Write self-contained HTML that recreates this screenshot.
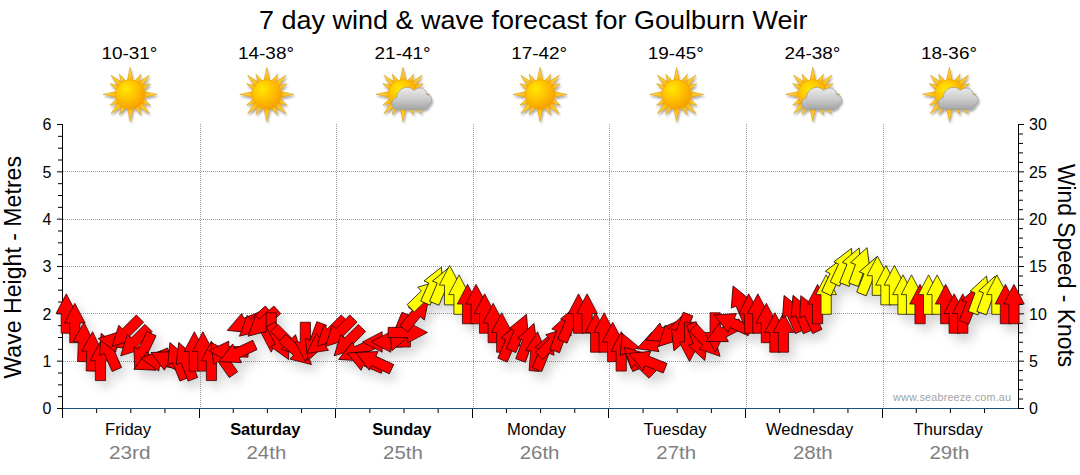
<!DOCTYPE html>
<html><head><meta charset="utf-8"><title>7 day wind &amp; wave forecast</title>
<style>html,body{margin:0;padding:0;background:#fff;overflow:hidden}body{width:1080px;height:475px;font-family:"Liberation Sans",sans-serif}</style></head>
<body>
<svg width="1080" height="475" viewBox="0 0 1080 475" style="display:block">
<defs>
<radialGradient id="sd" cx="0.36" cy="0.32" r="0.75"><stop offset="0" stop-color="#ffe800"/><stop offset="0.45" stop-color="#ffc400"/><stop offset="1" stop-color="#f79a00"/></radialGradient>
<linearGradient id="ry" x1="0" y1="1" x2="0" y2="0"><stop offset="0" stop-color="#fbb000"/><stop offset="1" stop-color="#ffe060"/></linearGradient>
<linearGradient id="cl" x1="0" y1="0" x2="0" y2="1"><stop offset="0" stop-color="#ebebeb"/><stop offset="0.5" stop-color="#cdcdcd"/><stop offset="1" stop-color="#a4a4a4"/></linearGradient>
<filter id="sh" x="-5%" y="-20%" width="110%" height="150%"><feGaussianBlur in="SourceAlpha" stdDeviation="5.5"/><feOffset dx="5" dy="7" result="o"/><feComponentTransfer><feFuncA type="linear" slope="0.17"/></feComponentTransfer><feMerge><feMergeNode/><feMergeNode in="SourceGraphic"/></feMerge></filter>
<filter id="ish" x="-20%" y="-20%" width="140%" height="140%"><feGaussianBlur in="SourceAlpha" stdDeviation="1.2"/><feOffset dx="1" dy="1.5"/><feComponentTransfer><feFuncA type="linear" slope="0.35"/></feComponentTransfer><feMerge><feMergeNode/><feMergeNode in="SourceGraphic"/></feMerge></filter>
<g id="sun">
<polygon points="0,-22.8 2.9,-12 -2.9,-12" transform="rotate(28)" fill="url(#ry)" stroke="#d69200" stroke-width="0.55"/><polygon points="0,-22.8 2.9,-12 -2.9,-12" transform="rotate(62)" fill="url(#ry)" stroke="#d69200" stroke-width="0.55"/><polygon points="0,-22.8 2.9,-12 -2.9,-12" transform="rotate(118)" fill="url(#ry)" stroke="#d69200" stroke-width="0.55"/><polygon points="0,-22.8 2.9,-12 -2.9,-12" transform="rotate(152)" fill="url(#ry)" stroke="#d69200" stroke-width="0.55"/><polygon points="0,-22.8 2.9,-12 -2.9,-12" transform="rotate(208)" fill="url(#ry)" stroke="#d69200" stroke-width="0.55"/><polygon points="0,-22.8 2.9,-12 -2.9,-12" transform="rotate(242)" fill="url(#ry)" stroke="#d69200" stroke-width="0.55"/><polygon points="0,-22.8 2.9,-12 -2.9,-12" transform="rotate(298)" fill="url(#ry)" stroke="#d69200" stroke-width="0.55"/><polygon points="0,-22.8 2.9,-12 -2.9,-12" transform="rotate(332)" fill="url(#ry)" stroke="#d69200" stroke-width="0.55"/><polygon points="0,-27 3.3,-12 -3.3,-12" transform="rotate(0)" fill="url(#ry)" stroke="#d69200" stroke-width="0.55"/><polygon points="0,-27 3.3,-12 -3.3,-12" transform="rotate(45)" fill="url(#ry)" stroke="#d69200" stroke-width="0.55"/><polygon points="0,-27 3.3,-12 -3.3,-12" transform="rotate(90)" fill="url(#ry)" stroke="#d69200" stroke-width="0.55"/><polygon points="0,-27 3.3,-12 -3.3,-12" transform="rotate(135)" fill="url(#ry)" stroke="#d69200" stroke-width="0.55"/><polygon points="0,-27 3.3,-12 -3.3,-12" transform="rotate(180)" fill="url(#ry)" stroke="#d69200" stroke-width="0.55"/><polygon points="0,-27 3.3,-12 -3.3,-12" transform="rotate(225)" fill="url(#ry)" stroke="#d69200" stroke-width="0.55"/><polygon points="0,-27 3.3,-12 -3.3,-12" transform="rotate(270)" fill="url(#ry)" stroke="#d69200" stroke-width="0.55"/><polygon points="0,-27 3.3,-12 -3.3,-12" transform="rotate(315)" fill="url(#ry)" stroke="#d69200" stroke-width="0.55"/>
<circle r="14.7" fill="url(#sd)" stroke="#f0a000" stroke-width="0.6"/></g>
<g id="cloud"><path d="M-14,15.5 C-21,15.5 -22.5,5 -15,3.5 C-15,-6 -3,-10 2,-3.5 C6,-8 15,-6.5 15,0.5 C21,1 21.5,9 17,10.5 C17,14 13,15.5 10,15.5 Z" fill="url(#cl)" stroke="#9a9a9a" stroke-width="0.7"/></g>
</defs>
<rect width="1080" height="475" fill="#fff"/>
<g stroke="#9a9a9a" stroke-width="1" stroke-dasharray="1,1" shape-rendering="crispEdges"><line x1="63" x2="1018" y1="361.5" y2="361.5"/><line x1="63" x2="1018" y1="313.5" y2="313.5"/><line x1="63" x2="1018" y1="266.5" y2="266.5"/><line x1="63" x2="1018" y1="219.5" y2="219.5"/><line x1="63" x2="1018" y1="171.5" y2="171.5"/><line x1="200.5" x2="200.5" y1="124" y2="408"/><line x1="336.5" x2="336.5" y1="124" y2="408"/><line x1="473.5" x2="473.5" y1="124" y2="408"/><line x1="609.5" x2="609.5" y1="124" y2="408"/><line x1="746.5" x2="746.5" y1="124" y2="408"/><line x1="883.5" x2="883.5" y1="124" y2="408"/></g>
<g stroke="#000" stroke-width="1"><line x1="62.5" x2="62.5" y1="124" y2="418" shape-rendering="crispEdges"/><line x1="1018.5" x2="1018.5" y1="124" y2="409" shape-rendering="crispEdges"/><line x1="57" x2="62" y1="408.50" y2="408.50"/><line x1="58" x2="62" y1="396.67" y2="396.67"/><line x1="58" x2="62" y1="384.83" y2="384.83"/><line x1="58" x2="62" y1="373.00" y2="373.00"/><line x1="57" x2="62" y1="361.17" y2="361.17"/><line x1="58" x2="62" y1="349.33" y2="349.33"/><line x1="58" x2="62" y1="337.50" y2="337.50"/><line x1="58" x2="62" y1="325.67" y2="325.67"/><line x1="57" x2="62" y1="313.83" y2="313.83"/><line x1="58" x2="62" y1="302.00" y2="302.00"/><line x1="58" x2="62" y1="290.17" y2="290.17"/><line x1="58" x2="62" y1="278.33" y2="278.33"/><line x1="57" x2="62" y1="266.50" y2="266.50"/><line x1="58" x2="62" y1="254.67" y2="254.67"/><line x1="58" x2="62" y1="242.83" y2="242.83"/><line x1="58" x2="62" y1="231.00" y2="231.00"/><line x1="57" x2="62" y1="219.17" y2="219.17"/><line x1="58" x2="62" y1="207.33" y2="207.33"/><line x1="58" x2="62" y1="195.50" y2="195.50"/><line x1="58" x2="62" y1="183.67" y2="183.67"/><line x1="57" x2="62" y1="171.83" y2="171.83"/><line x1="58" x2="62" y1="160.00" y2="160.00"/><line x1="58" x2="62" y1="148.17" y2="148.17"/><line x1="58" x2="62" y1="136.33" y2="136.33"/><line x1="57" x2="62" y1="124.50" y2="124.50"/><line x1="1019" x2="1024" y1="408.50" y2="408.50"/><line x1="1019" x2="1023" y1="399.03" y2="399.03"/><line x1="1019" x2="1023" y1="389.57" y2="389.57"/><line x1="1019" x2="1023" y1="380.10" y2="380.10"/><line x1="1019" x2="1023" y1="370.63" y2="370.63"/><line x1="1019" x2="1024" y1="361.17" y2="361.17"/><line x1="1019" x2="1023" y1="351.70" y2="351.70"/><line x1="1019" x2="1023" y1="342.23" y2="342.23"/><line x1="1019" x2="1023" y1="332.77" y2="332.77"/><line x1="1019" x2="1023" y1="323.30" y2="323.30"/><line x1="1019" x2="1024" y1="313.83" y2="313.83"/><line x1="1019" x2="1023" y1="304.37" y2="304.37"/><line x1="1019" x2="1023" y1="294.90" y2="294.90"/><line x1="1019" x2="1023" y1="285.43" y2="285.43"/><line x1="1019" x2="1023" y1="275.97" y2="275.97"/><line x1="1019" x2="1024" y1="266.50" y2="266.50"/><line x1="1019" x2="1023" y1="257.03" y2="257.03"/><line x1="1019" x2="1023" y1="247.57" y2="247.57"/><line x1="1019" x2="1023" y1="238.10" y2="238.10"/><line x1="1019" x2="1023" y1="228.63" y2="228.63"/><line x1="1019" x2="1024" y1="219.17" y2="219.17"/><line x1="1019" x2="1023" y1="209.70" y2="209.70"/><line x1="1019" x2="1023" y1="200.23" y2="200.23"/><line x1="1019" x2="1023" y1="190.77" y2="190.77"/><line x1="1019" x2="1023" y1="181.30" y2="181.30"/><line x1="1019" x2="1024" y1="171.83" y2="171.83"/><line x1="1019" x2="1023" y1="162.37" y2="162.37"/><line x1="1019" x2="1023" y1="152.90" y2="152.90"/><line x1="1019" x2="1023" y1="143.43" y2="143.43"/><line x1="1019" x2="1023" y1="133.97" y2="133.97"/><line x1="1019" x2="1024" y1="124.50" y2="124.50"/><line x1="96.65" x2="96.65" y1="409" y2="413"/><line x1="130.80" x2="130.80" y1="409" y2="413"/><line x1="164.95" x2="164.95" y1="409" y2="413"/><line x1="199.5" x2="199.5" y1="409" y2="418" shape-rendering="crispEdges"/><line x1="233.25" x2="233.25" y1="409" y2="413"/><line x1="267.40" x2="267.40" y1="409" y2="413"/><line x1="301.55" x2="301.55" y1="409" y2="413"/><line x1="335.5" x2="335.5" y1="409" y2="418" shape-rendering="crispEdges"/><line x1="369.85" x2="369.85" y1="409" y2="413"/><line x1="404.00" x2="404.00" y1="409" y2="413"/><line x1="438.15" x2="438.15" y1="409" y2="413"/><line x1="472.5" x2="472.5" y1="409" y2="418" shape-rendering="crispEdges"/><line x1="506.45" x2="506.45" y1="409" y2="413"/><line x1="540.60" x2="540.60" y1="409" y2="413"/><line x1="574.75" x2="574.75" y1="409" y2="413"/><line x1="608.5" x2="608.5" y1="409" y2="418" shape-rendering="crispEdges"/><line x1="643.05" x2="643.05" y1="409" y2="413"/><line x1="677.20" x2="677.20" y1="409" y2="413"/><line x1="711.35" x2="711.35" y1="409" y2="413"/><line x1="745.5" x2="745.5" y1="409" y2="418" shape-rendering="crispEdges"/><line x1="779.65" x2="779.65" y1="409" y2="413"/><line x1="813.80" x2="813.80" y1="409" y2="413"/><line x1="847.95" x2="847.95" y1="409" y2="413"/><line x1="882.5" x2="882.5" y1="409" y2="418" shape-rendering="crispEdges"/><line x1="916.25" x2="916.25" y1="409" y2="413"/><line x1="950.40" x2="950.40" y1="409" y2="413"/><line x1="984.55" x2="984.55" y1="409" y2="413"/></g>
<line x1="63" x2="1018" y1="408.5" y2="408.5" stroke="#1c4f82" stroke-width="1" shape-rendering="crispEdges"/>
<g font-family="Liberation Sans, sans-serif" font-size="16" fill="#000"><text x="51.5" y="414.2" text-anchor="end">0</text><text x="51.5" y="366.9" text-anchor="end">1</text><text x="51.5" y="319.5" text-anchor="end">2</text><text x="51.5" y="272.2" text-anchor="end">3</text><text x="51.5" y="224.9" text-anchor="end">4</text><text x="51.5" y="177.5" text-anchor="end">5</text><text x="51.5" y="130.2" text-anchor="end">6</text><text x="1029" y="414.2">0</text><text x="1029" y="366.9">5</text><text x="1029" y="319.5">10</text><text x="1029" y="272.2">15</text><text x="1029" y="224.9">20</text><text x="1029" y="177.5">25</text><text x="1029" y="130.2">30</text></g>
<text transform="translate(21.2,378.6) rotate(-90)" font-family="Liberation Sans, sans-serif" font-size="23" fill="#000" textLength="222.6" lengthAdjust="spacingAndGlyphs">Wave Height - Metres</text>
<text transform="translate(1058.3,163.9) rotate(90)" font-family="Liberation Sans, sans-serif" font-size="23" fill="#000" textLength="203.4" lengthAdjust="spacingAndGlyphs">Wind Speed - Knots</text>
<text x="259" y="28.7" font-family="Liberation Sans, sans-serif" font-size="26" fill="#000" textLength="548.6" lengthAdjust="spacingAndGlyphs">7 day wind &amp; wave forecast for Goulburn Weir</text>
<text x="128.1" y="434.8" text-anchor="middle" font-family="Liberation Sans, sans-serif" font-size="16.6" fill="#000">Friday</text>
<text x="109.0" y="458.7" font-family="Liberation Sans, sans-serif" font-size="18" fill="#808080" textLength="41.6" lengthAdjust="spacingAndGlyphs">23rd</text>
<text x="101.4" y="58.8" font-family="Liberation Sans, sans-serif" font-size="16.6" fill="#000" textLength="56" lengthAdjust="spacingAndGlyphs">10-31°</text>
<use href="#sun" x="130.2" y="94.4" filter="url(#ish)"/>
<text x="265.2" y="434.8" text-anchor="middle" font-family="Liberation Sans, sans-serif" font-size="16.4" font-weight="bold" fill="#000">Saturday</text>
<text x="246.5" y="458.7" font-family="Liberation Sans, sans-serif" font-size="18" fill="#808080" textLength="39.8" lengthAdjust="spacingAndGlyphs">24th</text>
<text x="238.0" y="58.8" font-family="Liberation Sans, sans-serif" font-size="16.6" fill="#000" textLength="56" lengthAdjust="spacingAndGlyphs">14-38°</text>
<use href="#sun" x="266.8" y="94.4" filter="url(#ish)"/>
<text x="401.8" y="434.8" text-anchor="middle" font-family="Liberation Sans, sans-serif" font-size="16.4" font-weight="bold" fill="#000">Sunday</text>
<text x="383.1" y="458.7" font-family="Liberation Sans, sans-serif" font-size="18" fill="#808080" textLength="39.8" lengthAdjust="spacingAndGlyphs">25th</text>
<text x="374.6" y="58.8" font-family="Liberation Sans, sans-serif" font-size="16.6" fill="#000" textLength="56" lengthAdjust="spacingAndGlyphs">21-41°</text>
<g filter="url(#ish)"><use href="#sun" x="403.0" y="94.3"/><use href="#cloud" x="411.8" y="94.1"/></g>
<text x="536.6" y="434.8" text-anchor="middle" font-family="Liberation Sans, sans-serif" font-size="16.6" fill="#000">Monday</text>
<text x="519.7" y="458.7" font-family="Liberation Sans, sans-serif" font-size="18" fill="#808080" textLength="39.8" lengthAdjust="spacingAndGlyphs">26th</text>
<text x="511.2" y="58.8" font-family="Liberation Sans, sans-serif" font-size="16.6" fill="#000" textLength="56" lengthAdjust="spacingAndGlyphs">17-42°</text>
<use href="#sun" x="540.0" y="94.4" filter="url(#ish)"/>
<text x="675.0" y="434.8" text-anchor="middle" font-family="Liberation Sans, sans-serif" font-size="16.6" fill="#000">Tuesday</text>
<text x="656.3" y="458.7" font-family="Liberation Sans, sans-serif" font-size="18" fill="#808080" textLength="39.8" lengthAdjust="spacingAndGlyphs">27th</text>
<text x="647.8" y="58.8" font-family="Liberation Sans, sans-serif" font-size="16.6" fill="#000" textLength="56" lengthAdjust="spacingAndGlyphs">19-45°</text>
<use href="#sun" x="676.6" y="94.4" filter="url(#ish)"/>
<text x="809.6" y="434.8" text-anchor="middle" font-family="Liberation Sans, sans-serif" font-size="16.6" fill="#000">Wednesday</text>
<text x="792.9" y="458.7" font-family="Liberation Sans, sans-serif" font-size="18" fill="#808080" textLength="39.8" lengthAdjust="spacingAndGlyphs">28th</text>
<text x="784.4" y="58.8" font-family="Liberation Sans, sans-serif" font-size="16.6" fill="#000" textLength="56" lengthAdjust="spacingAndGlyphs">24-38°</text>
<g filter="url(#ish)"><use href="#sun" x="812.8" y="94.3"/><use href="#cloud" x="821.6" y="94.1"/></g>
<text x="948.2" y="434.8" text-anchor="middle" font-family="Liberation Sans, sans-serif" font-size="16.6" fill="#000">Thursday</text>
<text x="929.5" y="458.7" font-family="Liberation Sans, sans-serif" font-size="18" fill="#808080" textLength="39.8" lengthAdjust="spacingAndGlyphs">29th</text>
<text x="921.0" y="58.8" font-family="Liberation Sans, sans-serif" font-size="16.6" fill="#000" textLength="56" lengthAdjust="spacingAndGlyphs">18-36°</text>
<g filter="url(#ish)"><use href="#sun" x="949.4" y="94.3"/><use href="#cloud" x="958.2" y="94.1"/></g>
<text x="893" y="400.7" font-family="Liberation Sans, sans-serif" font-size="10.8" fill="#a3a3a3" textLength="118" lengthAdjust="spacing">www.seabreeze.com.au</text>
<g filter="url(#sh)" stroke="#2a0000" stroke-opacity="0.9" stroke-width="0.85" stroke-linejoin="miter"><polygon points="0,-19.7 10.3,0 5.1,0 5.1,19.7 -5.1,19.7 -5.1,0 -10.3,0" transform="translate(66.30,313.53) rotate(0)" fill="#ff0000"/><polygon points="0,-19.7 10.3,0 5.1,0 5.1,19.7 -5.1,19.7 -5.1,0 -10.3,0" transform="translate(74.84,323.00) rotate(0)" fill="#ff0000"/><polygon points="0,-19.7 10.3,0 5.1,0 5.1,19.7 -5.1,19.7 -5.1,0 -10.3,0" transform="translate(83.38,341.93) rotate(2)" fill="#ff0000"/><polygon points="0,-19.7 10.3,0 5.1,0 5.1,19.7 -5.1,19.7 -5.1,0 -10.3,0" transform="translate(91.91,351.40) rotate(2)" fill="#ff0000"/><polygon points="0,-19.7 10.3,0 5.1,0 5.1,19.7 -5.1,19.7 -5.1,0 -10.3,0" transform="translate(100.45,360.87) rotate(0)" fill="#ff0000"/><polygon points="0,-19.7 10.3,0 5.1,0 5.1,19.7 -5.1,19.7 -5.1,0 -10.3,0" transform="translate(108.99,351.40) rotate(-23.5)" fill="#ff0000"/><polygon points="0,-19.7 10.3,0 5.1,0 5.1,19.7 -5.1,19.7 -5.1,0 -10.3,0" transform="translate(117.52,341.93) rotate(280)" fill="#ff0000"/><polygon points="0,-19.7 10.3,0 5.1,0 5.1,19.7 -5.1,19.7 -5.1,0 -10.3,0" transform="translate(126.06,332.46) rotate(225)" fill="#ff0000"/><polygon points="0,-19.7 10.3,0 5.1,0 5.1,19.7 -5.1,19.7 -5.1,0 -10.3,0" transform="translate(134.60,341.93) rotate(225)" fill="#ff0000"/><polygon points="0,-19.7 10.3,0 5.1,0 5.1,19.7 -5.1,19.7 -5.1,0 -10.3,0" transform="translate(143.14,351.40) rotate(205)" fill="#ff0000"/><polygon points="0,-19.7 10.3,0 5.1,0 5.1,19.7 -5.1,19.7 -5.1,0 -10.3,0" transform="translate(151.68,360.87) rotate(245)" fill="#ff0000"/><polygon points="0,-19.7 10.3,0 5.1,0 5.1,19.7 -5.1,19.7 -5.1,0 -10.3,0" transform="translate(160.21,360.87) rotate(278)" fill="#ff0000"/><polygon points="0,-19.7 10.3,0 5.1,0 5.1,19.7 -5.1,19.7 -5.1,0 -10.3,0" transform="translate(168.75,360.87) rotate(295)" fill="#ff0000"/><polygon points="0,-19.7 10.3,0 5.1,0 5.1,19.7 -5.1,19.7 -5.1,0 -10.3,0" transform="translate(177.29,360.87) rotate(-22)" fill="#ff0000"/><polygon points="0,-19.7 10.3,0 5.1,0 5.1,19.7 -5.1,19.7 -5.1,0 -10.3,0" transform="translate(185.82,360.87) rotate(-21)" fill="#ff0000"/><polygon points="0,-19.7 10.3,0 5.1,0 5.1,19.7 -5.1,19.7 -5.1,0 -10.3,0" transform="translate(194.36,351.40) rotate(0)" fill="#ff0000"/><polygon points="0,-19.7 10.3,0 5.1,0 5.1,19.7 -5.1,19.7 -5.1,0 -10.3,0" transform="translate(202.90,351.40) rotate(0)" fill="#ff0000"/><polygon points="0,-19.7 10.3,0 5.1,0 5.1,19.7 -5.1,19.7 -5.1,0 -10.3,0" transform="translate(211.44,360.87) rotate(0)" fill="#ff0000"/><polygon points="0,-19.7 10.3,0 5.1,0 5.1,19.7 -5.1,19.7 -5.1,0 -10.3,0" transform="translate(222.17,358.50) rotate(-35)" fill="#ff0000"/><polygon points="0,-19.7 10.3,0 5.1,0 5.1,19.7 -5.1,19.7 -5.1,0 -10.3,0" transform="translate(228.51,351.40) rotate(272)" fill="#ff0000"/><polygon points="0,-19.7 10.3,0 5.1,0 5.1,19.7 -5.1,19.7 -5.1,0 -10.3,0" transform="translate(237.05,353.29) rotate(245)" fill="#ff0000"/><polygon points="0,-19.7 10.3,0 5.1,0 5.1,19.7 -5.1,19.7 -5.1,0 -10.3,0" transform="translate(245.59,323.00) rotate(248)" fill="#ff0000"/><polygon points="0,-19.7 10.3,0 5.1,0 5.1,19.7 -5.1,19.7 -5.1,0 -10.3,0" transform="translate(254.12,323.00) rotate(228)" fill="#ff0000"/><polygon points="0,-19.7 10.3,0 5.1,0 5.1,19.7 -5.1,19.7 -5.1,0 -10.3,0" transform="translate(262.66,323.00) rotate(228)" fill="#ff0000"/><polygon points="0,-19.7 10.3,0 5.1,0 5.1,19.7 -5.1,19.7 -5.1,0 -10.3,0" transform="translate(271.20,332.46) rotate(180)" fill="#ff0000"/><polygon points="0,-19.7 10.3,0 5.1,0 5.1,19.7 -5.1,19.7 -5.1,0 -10.3,0" transform="translate(279.74,341.93) rotate(153)" fill="#ff0000"/><polygon points="0,-19.7 10.3,0 5.1,0 5.1,19.7 -5.1,19.7 -5.1,0 -10.3,0" transform="translate(288.27,341.93) rotate(135)" fill="#ff0000"/><polygon points="0,-19.7 10.3,0 5.1,0 5.1,19.7 -5.1,19.7 -5.1,0 -10.3,0" transform="translate(296.81,351.40) rotate(132)" fill="#ff0000"/><polygon points="0,-19.7 10.3,0 5.1,0 5.1,19.7 -5.1,19.7 -5.1,0 -10.3,0" transform="translate(305.35,341.93) rotate(180)" fill="#ff0000"/><polygon points="0,-19.7 10.3,0 5.1,0 5.1,19.7 -5.1,19.7 -5.1,0 -10.3,0" transform="translate(314.89,341.93) rotate(200)" fill="#ff0000"/><polygon points="0,-19.7 10.3,0 5.1,0 5.1,19.7 -5.1,19.7 -5.1,0 -10.3,0" transform="translate(322.43,341.93) rotate(234)" fill="#ff0000"/><polygon points="0,-19.7 10.3,0 5.1,0 5.1,19.7 -5.1,19.7 -5.1,0 -10.3,0" transform="translate(330.96,332.46) rotate(225)" fill="#ff0000"/><polygon points="0,-19.7 10.3,0 5.1,0 5.1,19.7 -5.1,19.7 -5.1,0 -10.3,0" transform="translate(339.50,332.46) rotate(225)" fill="#ff0000"/><polygon points="0,-19.7 10.3,0 5.1,0 5.1,19.7 -5.1,19.7 -5.1,0 -10.3,0" transform="translate(348.04,341.93) rotate(225)" fill="#ff0000"/><polygon points="0,-19.7 10.3,0 5.1,0 5.1,19.7 -5.1,19.7 -5.1,0 -10.3,0" transform="translate(356.57,351.40) rotate(246)" fill="#ff0000"/><polygon points="0,-19.7 10.3,0 5.1,0 5.1,19.7 -5.1,19.7 -5.1,0 -10.3,0" transform="translate(365.11,360.87) rotate(293)" fill="#ff0000"/><polygon points="0,-19.7 10.3,0 5.1,0 5.1,19.7 -5.1,19.7 -5.1,0 -10.3,0" transform="translate(373.65,360.87) rotate(295)" fill="#ff0000"/><polygon points="0,-19.7 10.3,0 5.1,0 5.1,19.7 -5.1,19.7 -5.1,0 -10.3,0" transform="translate(382.19,341.93) rotate(270)" fill="#ff0000"/><polygon points="0,-19.7 10.3,0 5.1,0 5.1,19.7 -5.1,19.7 -5.1,0 -10.3,0" transform="translate(390.73,341.93) rotate(270)" fill="#ff0000"/><polygon points="0,-19.7 10.3,0 5.1,0 5.1,19.7 -5.1,19.7 -5.1,0 -10.3,0" transform="translate(399.26,332.46) rotate(202)" fill="#ff0000"/><polygon points="0,-19.7 10.3,0 5.1,0 5.1,19.7 -5.1,19.7 -5.1,0 -10.3,0" transform="translate(407.80,332.46) rotate(90)" fill="#ff0000"/><polygon points="0,-19.7 10.3,0 5.1,0 5.1,19.7 -5.1,19.7 -5.1,0 -10.3,0" transform="translate(416.34,313.53) rotate(39)" fill="#ff0000"/><polygon points="0,-19.7 10.3,0 5.1,0 5.1,19.7 -5.1,19.7 -5.1,0 -10.3,0" transform="translate(424.88,294.60) rotate(46)" fill="#ffff00" stroke="#151500"/><polygon points="0,-19.7 10.3,0 5.1,0 5.1,19.7 -5.1,19.7 -5.1,0 -10.3,0" transform="translate(433.41,285.13) rotate(24)" fill="#ffff00" stroke="#151500"/><polygon points="0,-19.7 10.3,0 5.1,0 5.1,19.7 -5.1,19.7 -5.1,0 -10.3,0" transform="translate(441.95,285.13) rotate(23)" fill="#ffff00" stroke="#151500"/><polygon points="0,-19.7 10.3,0 5.1,0 5.1,19.7 -5.1,19.7 -5.1,0 -10.3,0" transform="translate(449.59,285.13) rotate(0)" fill="#ffff00" stroke="#151500"/><polygon points="0,-19.7 10.3,0 5.1,0 5.1,19.7 -5.1,19.7 -5.1,0 -10.3,0" transform="translate(459.02,294.60) rotate(0)" fill="#ffff00" stroke="#151500"/><polygon points="0,-19.7 10.3,0 5.1,0 5.1,19.7 -5.1,19.7 -5.1,0 -10.3,0" transform="translate(467.56,304.06) rotate(0)" fill="#ff0000"/><polygon points="0,-19.7 10.3,0 5.1,0 5.1,19.7 -5.1,19.7 -5.1,0 -10.3,0" transform="translate(476.10,304.06) rotate(0)" fill="#ff0000"/><polygon points="0,-19.7 10.3,0 5.1,0 5.1,19.7 -5.1,19.7 -5.1,0 -10.3,0" transform="translate(484.64,313.53) rotate(0)" fill="#ff0000"/><polygon points="0,-19.7 10.3,0 5.1,0 5.1,19.7 -5.1,19.7 -5.1,0 -10.3,0" transform="translate(493.18,323.00) rotate(0)" fill="#ff0000"/><polygon points="0,-19.7 10.3,0 5.1,0 5.1,19.7 -5.1,19.7 -5.1,0 -10.3,0" transform="translate(501.71,332.46) rotate(0)" fill="#ff0000"/><polygon points="0,-19.7 10.3,0 5.1,0 5.1,19.7 -5.1,19.7 -5.1,0 -10.3,0" transform="translate(510.25,341.93) rotate(23)" fill="#ff0000"/><polygon points="0,-19.7 10.3,0 5.1,0 5.1,19.7 -5.1,19.7 -5.1,0 -10.3,0" transform="translate(518.79,332.46) rotate(23)" fill="#ff0000"/><polygon points="0,-19.7 10.3,0 5.1,0 5.1,19.7 -5.1,19.7 -5.1,0 -10.3,0" transform="translate(527.32,341.93) rotate(20)" fill="#ff0000"/><polygon points="0,-19.7 10.3,0 5.1,0 5.1,19.7 -5.1,19.7 -5.1,0 -10.3,0" transform="translate(535.86,351.40) rotate(5)" fill="#ff0000"/><polygon points="0,-19.7 10.3,0 5.1,0 5.1,19.7 -5.1,19.7 -5.1,0 -10.3,0" transform="translate(544.40,351.40) rotate(22)" fill="#ff0000"/><polygon points="0,-19.7 10.3,0 5.1,0 5.1,19.7 -5.1,19.7 -5.1,0 -10.3,0" transform="translate(552.94,341.93) rotate(45)" fill="#ff0000"/><polygon points="0,-19.7 10.3,0 5.1,0 5.1,19.7 -5.1,19.7 -5.1,0 -10.3,0" transform="translate(561.47,332.46) rotate(20)" fill="#ff0000"/><polygon points="0,-19.7 10.3,0 5.1,0 5.1,19.7 -5.1,19.7 -5.1,0 -10.3,0" transform="translate(570.01,323.00) rotate(23)" fill="#ff0000"/><polygon points="0,-19.7 10.3,0 5.1,0 5.1,19.7 -5.1,19.7 -5.1,0 -10.3,0" transform="translate(578.55,313.53) rotate(0)" fill="#ff0000"/><polygon points="0,-19.7 10.3,0 5.1,0 5.1,19.7 -5.1,19.7 -5.1,0 -10.3,0" transform="translate(587.09,313.53) rotate(0)" fill="#ff0000"/><polygon points="0,-19.7 10.3,0 5.1,0 5.1,19.7 -5.1,19.7 -5.1,0 -10.3,0" transform="translate(595.62,332.46) rotate(0)" fill="#ff0000"/><polygon points="0,-19.7 10.3,0 5.1,0 5.1,19.7 -5.1,19.7 -5.1,0 -10.3,0" transform="translate(604.16,332.46) rotate(0)" fill="#ff0000"/><polygon points="0,-19.7 10.3,0 5.1,0 5.1,19.7 -5.1,19.7 -5.1,0 -10.3,0" transform="translate(612.70,341.93) rotate(0)" fill="#ff0000"/><polygon points="0,-19.7 10.3,0 5.1,0 5.1,19.7 -5.1,19.7 -5.1,0 -10.3,0" transform="translate(621.24,351.40) rotate(0)" fill="#ff0000"/><polygon points="0,-19.7 10.3,0 5.1,0 5.1,19.7 -5.1,19.7 -5.1,0 -10.3,0" transform="translate(629.77,351.40) rotate(337)" fill="#ff0000"/><polygon points="0,-19.7 10.3,0 5.1,0 5.1,19.7 -5.1,19.7 -5.1,0 -10.3,0" transform="translate(638.31,360.87) rotate(314)" fill="#ff0000"/><polygon points="0,-19.7 10.3,0 5.1,0 5.1,19.7 -5.1,19.7 -5.1,0 -10.3,0" transform="translate(646.85,360.87) rotate(292)" fill="#ff0000"/><polygon points="0,-19.7 10.3,0 5.1,0 5.1,19.7 -5.1,19.7 -5.1,0 -10.3,0" transform="translate(655.39,341.93) rotate(250)" fill="#ff0000"/><polygon points="0,-19.7 10.3,0 5.1,0 5.1,19.7 -5.1,19.7 -5.1,0 -10.3,0" transform="translate(663.92,332.46) rotate(247)" fill="#ff0000"/><polygon points="0,-19.7 10.3,0 5.1,0 5.1,19.7 -5.1,19.7 -5.1,0 -10.3,0" transform="translate(672.46,332.46) rotate(225)" fill="#ff0000"/><polygon points="0,-19.7 10.3,0 5.1,0 5.1,19.7 -5.1,19.7 -5.1,0 -10.3,0" transform="translate(681.00,332.46) rotate(201)" fill="#ff0000"/><polygon points="0,-19.7 10.3,0 5.1,0 5.1,19.7 -5.1,19.7 -5.1,0 -10.3,0" transform="translate(689.54,341.93) rotate(180)" fill="#ff0000"/><polygon points="0,-19.7 10.3,0 5.1,0 5.1,19.7 -5.1,19.7 -5.1,0 -10.3,0" transform="translate(698.07,341.93) rotate(160)" fill="#ff0000"/><polygon points="0,-19.7 10.3,0 5.1,0 5.1,19.7 -5.1,19.7 -5.1,0 -10.3,0" transform="translate(706.61,341.93) rotate(137)" fill="#ff0000"/><polygon points="0,-19.7 10.3,0 5.1,0 5.1,19.7 -5.1,19.7 -5.1,0 -10.3,0" transform="translate(715.15,332.46) rotate(180)" fill="#ff0000"/><polygon points="0,-19.7 10.3,0 5.1,0 5.1,19.7 -5.1,19.7 -5.1,0 -10.3,0" transform="translate(723.69,332.46) rotate(243)" fill="#ff0000"/><polygon points="0,-19.7 10.3,0 5.1,0 5.1,19.7 -5.1,19.7 -5.1,0 -10.3,0" transform="translate(732.22,323.00) rotate(294)" fill="#ff0000"/><polygon points="0,-19.7 10.3,0 5.1,0 5.1,19.7 -5.1,19.7 -5.1,0 -10.3,0" transform="translate(740.76,304.06) rotate(-23)" fill="#ff0000"/><polygon points="0,-19.7 10.3,0 5.1,0 5.1,19.7 -5.1,19.7 -5.1,0 -10.3,0" transform="translate(749.30,313.53) rotate(-2)" fill="#ff0000"/><polygon points="0,-19.7 10.3,0 5.1,0 5.1,19.7 -5.1,19.7 -5.1,0 -10.3,0" transform="translate(757.84,313.53) rotate(0)" fill="#ff0000"/><polygon points="0,-19.7 10.3,0 5.1,0 5.1,19.7 -5.1,19.7 -5.1,0 -10.3,0" transform="translate(766.37,323.00) rotate(0)" fill="#ff0000"/><polygon points="0,-19.7 10.3,0 5.1,0 5.1,19.7 -5.1,19.7 -5.1,0 -10.3,0" transform="translate(774.91,332.46) rotate(0)" fill="#ff0000"/><polygon points="0,-19.7 10.3,0 5.1,0 5.1,19.7 -5.1,19.7 -5.1,0 -10.3,0" transform="translate(783.45,332.46) rotate(0)" fill="#ff0000"/><polygon points="0,-19.7 10.3,0 5.1,0 5.1,19.7 -5.1,19.7 -5.1,0 -10.3,0" transform="translate(791.99,313.53) rotate(-23.7)" fill="#ff0000"/><polygon points="0,-19.7 10.3,0 5.1,0 5.1,19.7 -5.1,19.7 -5.1,0 -10.3,0" transform="translate(800.52,313.53) rotate(-22.4)" fill="#ff0000"/><polygon points="0,-19.7 10.3,0 5.1,0 5.1,19.7 -5.1,19.7 -5.1,0 -10.3,0" transform="translate(809.06,313.53) rotate(-24.7)" fill="#ff0000"/><polygon points="0,-19.7 10.3,0 5.1,0 5.1,19.7 -5.1,19.7 -5.1,0 -10.3,0" transform="translate(817.60,304.06) rotate(0)" fill="#ff0000"/><polygon points="0,-19.7 10.3,0 5.1,0 5.1,19.7 -5.1,19.7 -5.1,0 -10.3,0" transform="translate(826.14,294.60) rotate(0)" fill="#ffff00" stroke="#151500"/><polygon points="0,-19.7 10.3,0 5.1,0 5.1,19.7 -5.1,19.7 -5.1,0 -10.3,0" transform="translate(834.67,275.66) rotate(25)" fill="#ffff00" stroke="#151500"/><polygon points="0,-19.7 10.3,0 5.1,0 5.1,19.7 -5.1,19.7 -5.1,0 -10.3,0" transform="translate(843.21,266.19) rotate(25)" fill="#ffff00" stroke="#151500"/><polygon points="0,-19.7 10.3,0 5.1,0 5.1,19.7 -5.1,19.7 -5.1,0 -10.3,0" transform="translate(851.75,266.19) rotate(22)" fill="#ffff00" stroke="#151500"/><polygon points="0,-19.7 10.3,0 5.1,0 5.1,19.7 -5.1,19.7 -5.1,0 -10.3,0" transform="translate(860.29,266.19) rotate(20)" fill="#ffff00" stroke="#151500"/><polygon points="0,-19.7 10.3,0 5.1,0 5.1,19.7 -5.1,19.7 -5.1,0 -10.3,0" transform="translate(868.82,275.66) rotate(22)" fill="#ffff00" stroke="#151500"/><polygon points="0,-19.7 10.3,0 5.1,0 5.1,19.7 -5.1,19.7 -5.1,0 -10.3,0" transform="translate(877.36,275.66) rotate(0)" fill="#ffff00" stroke="#151500"/><polygon points="0,-19.7 10.3,0 5.1,0 5.1,19.7 -5.1,19.7 -5.1,0 -10.3,0" transform="translate(885.90,285.13) rotate(0)" fill="#ffff00" stroke="#151500"/><polygon points="0,-19.7 10.3,0 5.1,0 5.1,19.7 -5.1,19.7 -5.1,0 -10.3,0" transform="translate(894.44,285.13) rotate(0)" fill="#ffff00" stroke="#151500"/><polygon points="0,-19.7 10.3,0 5.1,0 5.1,19.7 -5.1,19.7 -5.1,0 -10.3,0" transform="translate(902.97,294.60) rotate(0)" fill="#ffff00" stroke="#151500"/><polygon points="0,-19.7 10.3,0 5.1,0 5.1,19.7 -5.1,19.7 -5.1,0 -10.3,0" transform="translate(911.51,294.60) rotate(0)" fill="#ffff00" stroke="#151500"/><polygon points="0,-19.7 10.3,0 5.1,0 5.1,19.7 -5.1,19.7 -5.1,0 -10.3,0" transform="translate(920.05,304.06) rotate(0)" fill="#ff0000"/><polygon points="0,-19.7 10.3,0 5.1,0 5.1,19.7 -5.1,19.7 -5.1,0 -10.3,0" transform="translate(928.59,294.60) rotate(0)" fill="#ffff00" stroke="#151500"/><polygon points="0,-19.7 10.3,0 5.1,0 5.1,19.7 -5.1,19.7 -5.1,0 -10.3,0" transform="translate(937.12,294.60) rotate(0)" fill="#ffff00" stroke="#151500"/><polygon points="0,-19.7 10.3,0 5.1,0 5.1,19.7 -5.1,19.7 -5.1,0 -10.3,0" transform="translate(945.66,304.06) rotate(0)" fill="#ff0000"/><polygon points="0,-19.7 10.3,0 5.1,0 5.1,19.7 -5.1,19.7 -5.1,0 -10.3,0" transform="translate(954.20,313.53) rotate(0)" fill="#ff0000"/><polygon points="0,-19.7 10.3,0 5.1,0 5.1,19.7 -5.1,19.7 -5.1,0 -10.3,0" transform="translate(962.74,313.53) rotate(0)" fill="#ff0000"/><polygon points="0,-19.7 10.3,0 5.1,0 5.1,19.7 -5.1,19.7 -5.1,0 -10.3,0" transform="translate(971.27,304.06) rotate(22)" fill="#ff0000"/><polygon points="0,-19.7 10.3,0 5.1,0 5.1,19.7 -5.1,19.7 -5.1,0 -10.3,0" transform="translate(979.81,294.60) rotate(20)" fill="#ffff00" stroke="#151500"/><polygon points="0,-19.7 10.3,0 5.1,0 5.1,19.7 -5.1,19.7 -5.1,0 -10.3,0" transform="translate(988.35,294.60) rotate(20)" fill="#ffff00" stroke="#151500"/><polygon points="0,-19.7 10.3,0 5.1,0 5.1,19.7 -5.1,19.7 -5.1,0 -10.3,0" transform="translate(996.89,294.60) rotate(0)" fill="#ffff00" stroke="#151500"/><polygon points="0,-19.7 10.3,0 5.1,0 5.1,19.7 -5.1,19.7 -5.1,0 -10.3,0" transform="translate(1005.42,304.06) rotate(0)" fill="#ff0000"/><polygon points="0,-19.7 10.3,0 5.1,0 5.1,19.7 -5.1,19.7 -5.1,0 -10.3,0" transform="translate(1013.96,304.06) rotate(0)" fill="#ff0000"/></g>
</svg>
</body></html>
